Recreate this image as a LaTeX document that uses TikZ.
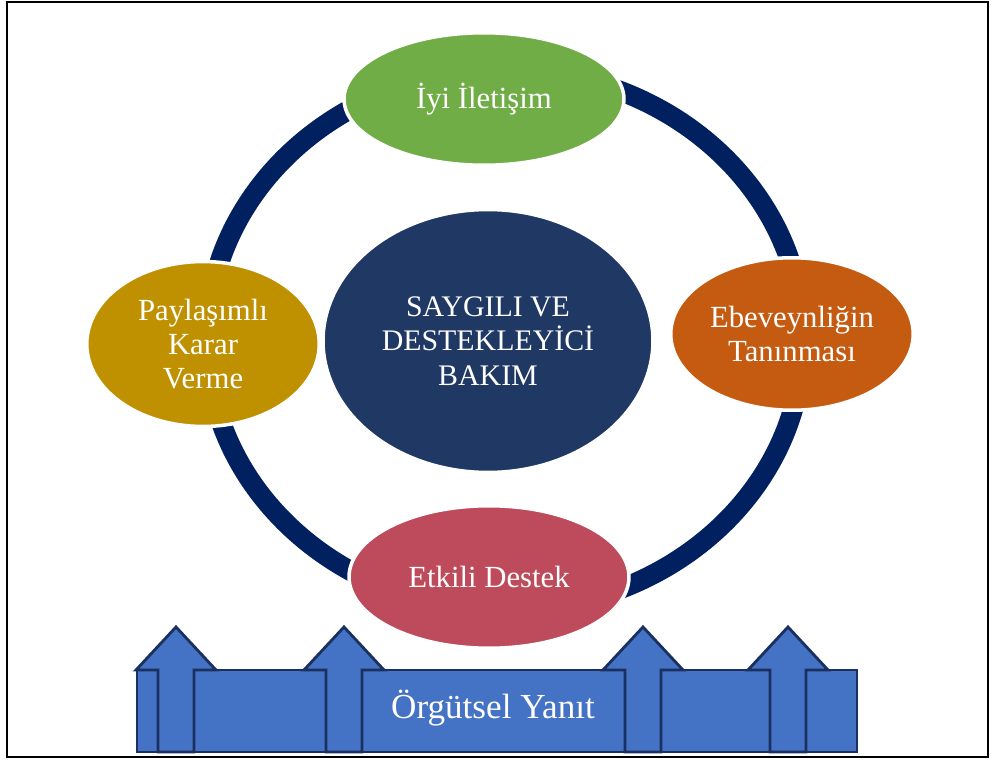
\documentclass[tikz,border=0pt]{standalone}
\usepackage{fontspec}
\setmainfont{Liberation Serif}
\usetikzlibrary{shapes.geometric}
\definecolor{ringblue}{HTML}{002060}
\definecolor{coreblue}{HTML}{203864}
\definecolor{leafgreen}{HTML}{70AD47}
\definecolor{rustorange}{HTML}{C55A11}
\definecolor{mustard}{HTML}{BF9000}
\definecolor{rosered}{HTML}{BE4B5B}
\definecolor{arrowfill}{HTML}{4472C4}
\definecolor{arrowline}{HTML}{1A3060}

\begin{document}
\begin{tikzpicture}[x=0.02cm,y=-0.02cm]
\tikzstyle{bubble}=[ellipse,draw=white,line width=2pt,inner sep=0pt,text=white,align=center,font=\fontsize{17.5}{19.5}\selectfont]
\tikzstyle{upbar}=[fill=arrowfill,draw=arrowline,line width=1.6pt,line join=miter]
\useasboundingbox (0,0) rectangle (992,760);
\draw[line width=1.2pt] (7,2) rectangle (988,757);
% ring behind the bubbles
\draw[ringblue,line width=0.4cm] (505,340) ellipse [x radius=298,y radius=270];
\node[bubble,fill=coreblue,minimum width=6.6cm,minimum height=5.26cm,font=\fontsize{17}{19.5}\selectfont] (core) at (488,341) {SAYGILI VE\\DESTEKLEYİCİ\\BAKIM};
\foreach \name/\point/\shade/\bw/\bh/\txt in {
	top/{484,99}/leafgreen/5.6/2.65/{İyi İletişim},
	right/{792,334}/rustorange/4.85/3.05/{Ebeveynliğin\\Tanınması},
	left/{203,344}/mustard/4.65/3.3/{Paylaşımlı\\Karar\\Verme},
	bottom/{489,577}/rosered/5.6/2.85/{Etkili Destek}}
	\node[bubble,fill=\shade,minimum width=\bw cm,minimum height=\bh cm] (\name) at (\point) {\txt};
% base block with arrows
\draw[upbar] (137,670) rectangle (857,752);
\foreach \cx in {176,344,643,788}
	\draw[upbar] (\cx-18,752) -- (\cx-18,670) -- (\cx-40,670) -- (\cx,627) -- (\cx+40,670) -- (\cx+18,670) -- (\cx+18,752) -- cycle;
\node[text=white,font=\fontsize{20}{22}\selectfont] (response) at (493,708) {Örgütsel Yanıt};
\end{tikzpicture}
\end{document}
